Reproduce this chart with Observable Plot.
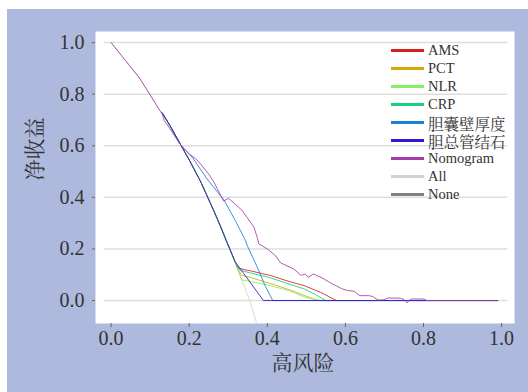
<!DOCTYPE html>
<html><head><meta charset="utf-8">
<script src="https://cdn.jsdelivr.net/npm/d3@7"></script>
<script src="https://cdn.jsdelivr.net/npm/@observablehq/plot@0.6"></script>
<style>
html,body{margin:0;padding:0;background:#fff;}
#wrap{position:relative;width:528px;height:392px;overflow:hidden;}
#bg{position:absolute;left:7px;top:9px;width:521px;height:383px;background:#adbade;}
#chart{position:absolute;left:0;top:0;}
#legend{position:absolute;left:391px;top:42px;font-family:'Liberation Serif','Noto Serif CJK SC',serif;font-size:14.5px;color:#333;}
.row{height:17.94px;display:flex;align-items:center;white-space:nowrap;}
.sw{width:33px;height:3px;margin-right:4px;flex:none;}
.cjk{font-size:15.5px;}
</style></head>
<body><div id="wrap"><div id="bg"></div><div id="chart"></div><div id="legend"></div></div>
<script>
const seriesNames = ["AMS","PCT","NLR","CRP","胆囊壁厚度","胆总管结石","Nomogram","All","None"];
const seriesColors = ["#d81f1f","#d4a80a","#84f060","#14d07e","#1a80d8","#3a14d0","#a63ca6","#d2d2d2","#808080"];
const xTicks = [0,0.2,0.4,0.6,0.8,1.0];
const yTicks = [0,0.2,0.4,0.6,0.8,1.0];

const allX = [0,0.037,0.071,0.101,0.122,0.131,0.15,0.178,0.2,0.229,0.263,0.28,0.295,0.317,0.335,0.355,0.373,0.39];
const allY = [1,0.93,0.866,0.795,0.743,0.727,0.68,0.604,0.545,0.462,0.348,0.288,0.232,0.152,0.08,0,-0.089,-0.17];
const noneX = [0,0.99];
const noneY = [0,0];
const amsX = [0.131,0.15,0.178,0.2,0.229,0.263,0.28,0.295,0.317,0.326,0.335,0.36,0.408,0.46,0.494,0.536,0.577,0.99];
const amsY = [0.727,0.68,0.604,0.545,0.462,0.348,0.288,0.232,0.152,0.127,0.122,0.114,0.097,0.072,0.058,0.032,0,0];
const pctX = [0.131,0.15,0.178,0.2,0.229,0.263,0.28,0.295,0.317,0.325,0.334,0.36,0.408,0.46,0.494,0.53,0.99];
const pctY = [0.727,0.68,0.604,0.545,0.462,0.348,0.288,0.232,0.152,0.12,0.098,0.088,0.066,0.04,0.02,0,0];
const nlrX = [0.131,0.15,0.178,0.2,0.229,0.263,0.28,0.295,0.317,0.321,0.334,0.36,0.408,0.46,0.494,0.535,0.99];
const nlrY = [0.727,0.68,0.604,0.545,0.462,0.348,0.288,0.232,0.152,0.136,0.08,0.073,0.058,0.036,0.014,0,0];
const crpX = [0.131,0.15,0.178,0.2,0.229,0.263,0.28,0.295,0.317,0.324,0.333,0.36,0.408,0.46,0.494,0.525,0.549,0.99];
const crpY = [0.727,0.68,0.604,0.545,0.462,0.348,0.288,0.232,0.152,0.125,0.116,0.106,0.088,0.062,0.045,0.022,0,0];
const gbwX = [0.131,0.15,0.178,0.186,0.208,0.246,0.289,0.318,0.343,0.349,0.374,0.395,0.414,0.99];
const gbwY = [0.727,0.68,0.604,0.59,0.555,0.471,0.39,0.31,0.236,0.212,0.13,0.055,0,0];
const cbdX = [0.131,0.15,0.178,0.2,0.229,0.263,0.28,0.295,0.317,0.39,0.99];
const cbdY = [0.727,0.68,0.604,0.545,0.462,0.348,0.288,0.232,0.152,0,0];
const nomoX = [0,0.037,0.071,0.101,0.122,0.131,0.136,0.148,0.173,0.186,0.2,0.216,0.225,0.25,0.263,0.288,0.301,0.335,0.366,0.375,0.378,0.4,0.421,0.434,0.468,0.487,0.497,0.505,0.518,0.54,0.566,0.592,0.605,0.622,0.637,0.66,0.669,0.684,0.699,0.709,0.741,0.75,0.758,0.767,0.801,0.808,0.99];
const nomoY = [1,0.93,0.866,0.795,0.743,0.722,0.698,0.672,0.614,0.59,0.568,0.55,0.537,0.49,0.46,0.386,0.396,0.35,0.284,0.24,0.22,0.2,0.174,0.146,0.122,0.097,0.103,0.09,0.103,0.088,0.065,0.045,0.039,0.036,0.019,0.019,0.016,0.002,0.003,0.01,0.009,0.004,-0.009,0.006,0.006,0,0];

const seriesData = {
  "AMS":[amsX,amsY],"PCT":[pctX,pctY],"NLR":[nlrX,nlrY],"CRP":[crpX,crpY],
  "胆囊壁厚度":[gbwX,gbwY],"胆总管结石":[cbdX,cbdY],"Nomogram":[nomoX,nomoY],
  "All":[allX,allY],"None":[noneX,noneY]
};
const rowsOf = name => seriesData[name][0].map((x,i)=>({series:name,x,y:seriesData[name][1][i]}));
const drawOrder = ["All","None","AMS","PCT","NLR","CRP","胆囊壁厚度","胆总管结石","Nomogram"];
const font = "'Liberation Serif', 'Noto Serif CJK SC', serif";

const chart = Plot.plot({
  width:528, height:392,
  marginLeft:95, marginRight:14, marginTop:31, marginBottom:69,
  style:{background:"transparent", fontFamily:font, fontSize:"20px", color:"#333"},
  x:{domain:[-0.04,1.033]},
  y:{domain:[-0.089,1.043]},
  color:{domain:seriesNames, range:seriesColors},
  marks:[
    Plot.frame({fill:"white", stroke:"none"}),
    Plot.ruleY(yTicks,{x1:-0.018, x2:1.016, stroke:"#dedede", strokeWidth:1.5}),
    Plot.axisX(xTicks,{tickSize:4, tickPadding:3, tickFormat:d3.format(".1f"), label:null, stroke:"#666", fontFamily:font, fontSize:20}),
    Plot.axisY(yTicks,{tickSize:3, tickPadding:8, tickFormat:d3.format(".1f"), label:null, stroke:"#666", fontFamily:font, fontSize:20}),
    ...drawOrder.map(name => Plot.line(rowsOf(name),{x:"x", y:"y", stroke:"series", strokeWidth:1, strokeOpacity:0.85, clip:true})),
    Plot.text(["高风险"],{frameAnchor:"bottom", dy:46, dx:-2, text:d=>d, fontSize:21, fill:"#333", fontFamily:font}),
    Plot.text(["净收益"],{frameAnchor:"left", dx:-60, dy:3, rotate:-90, text:d=>d, fontSize:21, fill:"#333", fontFamily:font})
  ]
});
document.getElementById("chart").appendChild(chart);

const legend = document.getElementById("legend");
seriesNames.forEach((name,i)=>{
  const row = document.createElement("div");
  row.className = "row";
  const sw = document.createElement("div");
  sw.className = "sw";
  sw.style.background = seriesColors[i];
  const lab = document.createElement("span");
  lab.textContent = name;
  if (/[\u4e00-\u9fff]/.test(name)) lab.className = "cjk";
  row.appendChild(sw); row.appendChild(lab);
  legend.appendChild(row);
});
</script>
</body></html>
